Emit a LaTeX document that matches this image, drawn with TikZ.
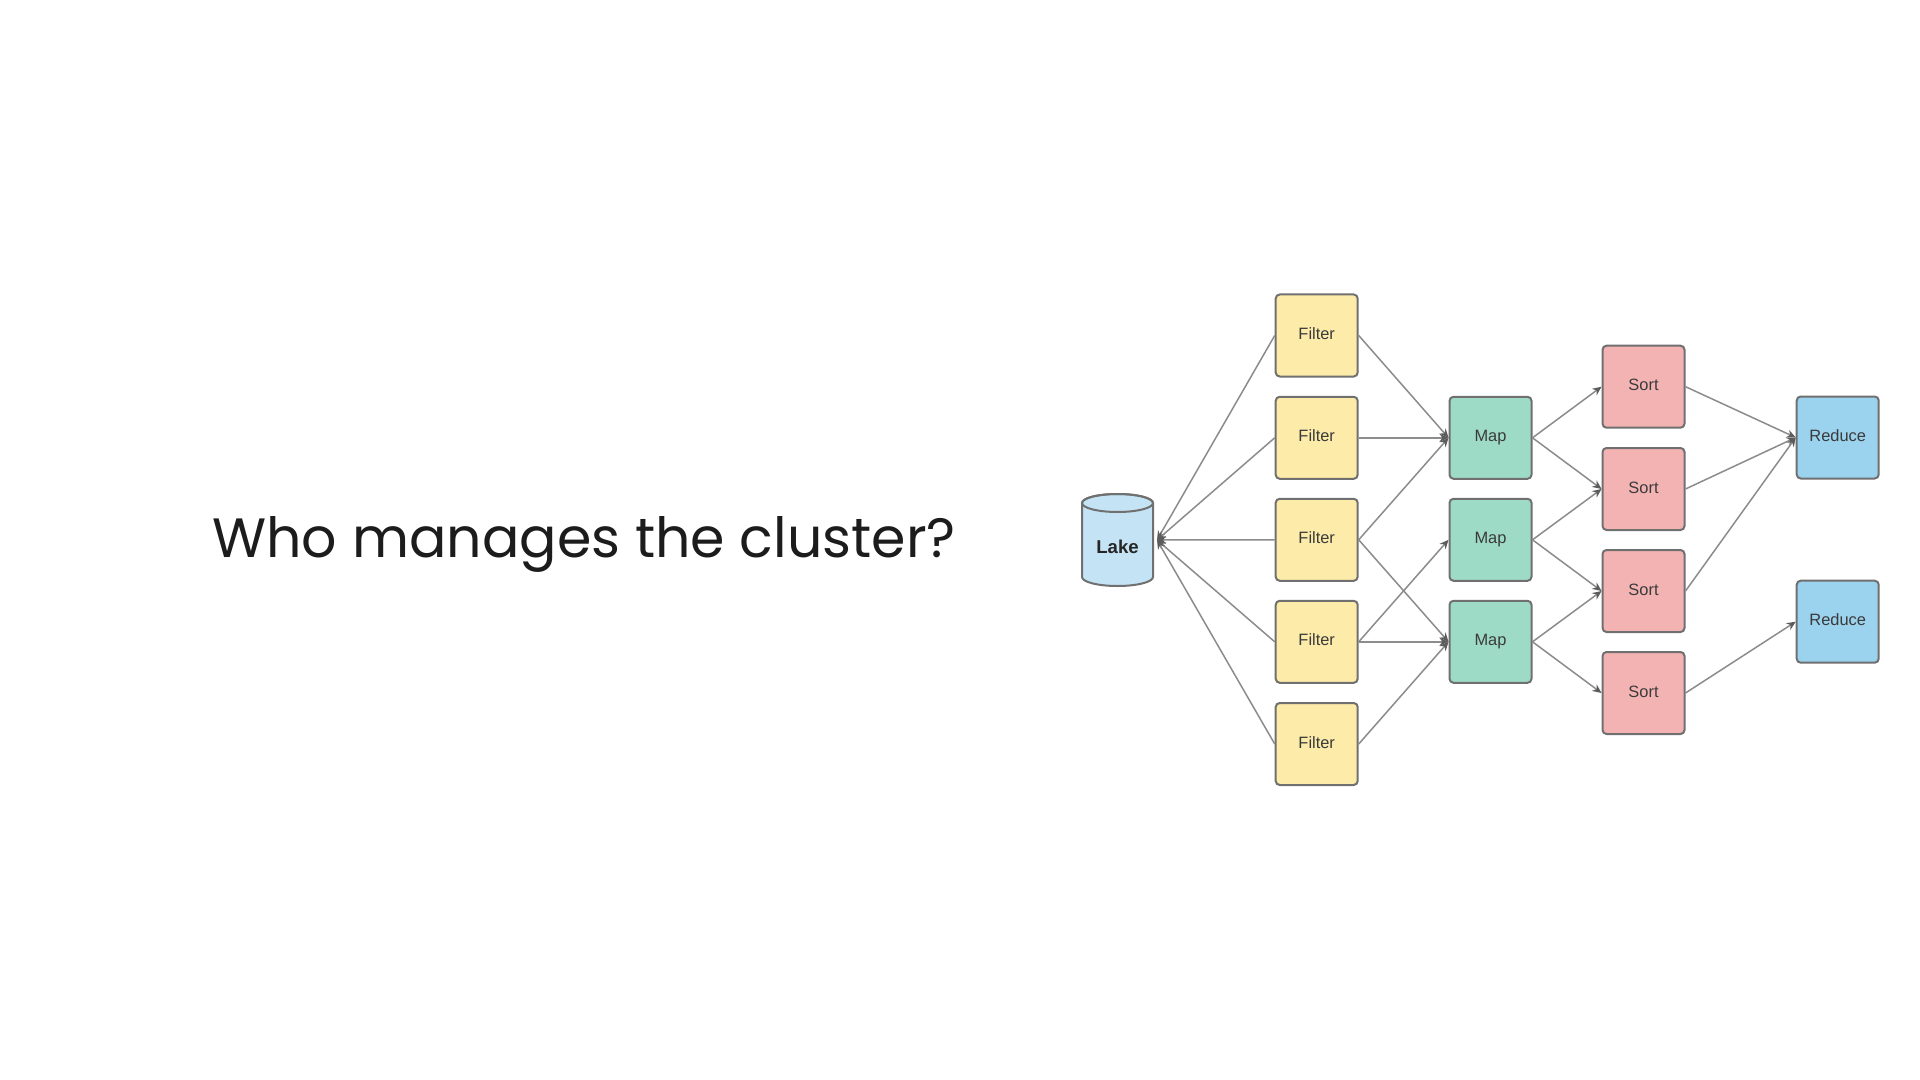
\documentclass[tikz,border=0pt]{standalone}
\usepackage{fontspec}
\setmainfont{Liberation Sans}
\newfontfamily\titlefont{Poppins}
\usetikzlibrary{arrows.meta}
\definecolor{edgegray}{HTML}{8C8C8C}
\definecolor{tipgray}{HTML}{5C5C5C}
\definecolor{boxline}{HTML}{707070}
\definecolor{labeltext}{HTML}{3A3A3A}
\definecolor{filterfill}{HTML}{FCEBA9}
\definecolor{mapfill}{HTML}{9EDBC7}
\definecolor{sortfill}{HTML}{F4B3B3}
\definecolor{reducefill}{HTML}{9BD2EE}
\definecolor{lakefill}{HTML}{C4E4F5}
\definecolor{titletext}{HTML}{1C1C1C}
\tikzset{
  box/.style={draw=boxline, line width=1pt, rounded corners=2pt,
    minimum width=41pt, minimum height=41pt, inner sep=0pt,
    text height=6pt, text depth=2pt,
    text=labeltext, font=\fontsize{8.2}{9}\selectfont},
  filterbox/.style={box, fill=filterfill},
  mapbox/.style={box, fill=mapfill},
  sortbox/.style={box, fill=sortfill},
  reducebox/.style={box, fill=reducefill},
  conn/.style={draw=edgegray, line width=0.75pt,
    -{Stealth[length=4.5pt,width=4pt,color=tipgray]}},
}
\begin{document}
\begin{tikzpicture}[x=0.5pt,y=-0.5pt]
\useasboundingbox[fill=white] (0,0) rectangle (1920,1080);
% title
\node[anchor=base west, inner sep=0pt, text=titletext,
  font=\titlefont\fontsize{27.7}{33}\selectfont] (title) at (212,557.3)
  {Who manages the cluster?};
% lake cylinder
\filldraw[fill=lakefill, draw=boxline, line width=1pt]
  (1082,503) -- (1082,577) arc[start angle=180, end angle=360, x radius=17.75pt, y radius=4.5pt]
  -- (1153,503) arc[start angle=0, end angle=180, x radius=17.75pt, y radius=4.5pt] -- cycle;
\draw[draw=boxline, line width=1pt] (1117.5,503) ellipse [x radius=17.75pt, y radius=4.5pt];
\node[font=\bfseries\fontsize{9.3}{11}\selectfont, text=black!85, inner sep=0pt] (lake) at (1117.5,546.5) {Lake};
\coordinate (lakein) at (1157,540);
% filters
\node[filterbox] (f1) at (1316.7,335.5) {Filter};
\node[filterbox] (f2) at (1316.7,437.8) {Filter};
\node[filterbox] (f3) at (1316.7,539.8) {Filter};
\node[filterbox] (f4) at (1316.7,641.8) {Filter};
\node[filterbox] (f5) at (1316.7,744) {Filter};
% maps
\node[mapbox] (m1) at (1490.5,437.8) {Map};
\node[mapbox] (m2) at (1490.5,539.8) {Map};
\node[mapbox] (m3) at (1490.5,641.8) {Map};
% sorts
\node[sortbox] (s1) at (1643.5,386.7) {Sort};
\node[sortbox] (s2) at (1643.5,489) {Sort};
\node[sortbox] (s3) at (1643.5,591) {Sort};
\node[sortbox] (s4) at (1643.5,693) {Sort};
% reduces
\node[reducebox] (r1) at (1837.7,437.5) {Reduce};
\node[reducebox] (r2) at (1837.7,621.7) {Reduce};
% edges: filters to lake
\foreach \f in {f1,f2,f3,f4,f5}
  \draw[conn] (\f.west) -- (lakein);
% filters to maps
\draw[conn] (f1.east) -- (m1.west);
\draw[conn] (f2.east) -- (m1.west);
\draw[conn] (f3.east) -- (m1.west);
\draw[conn] (f3.east) -- (m3.west);
\draw[conn] (f4.east) -- (m2.west);
\draw[conn] (f4.east) -- (m3.west);
\draw[conn] (f5.east) -- (m3.west);
% maps to sorts
\draw[conn] (m1.east) -- (s1.west);
\draw[conn] (m1.east) -- (s2.west);
\draw[conn] (m2.east) -- (s2.west);
\draw[conn] (m2.east) -- (s3.west);
\draw[conn] (m3.east) -- (s3.west);
\draw[conn] (m3.east) -- (s4.west);
% sorts to reduces
\draw[conn] (s1.east) -- (r1.west);
\draw[conn] (s2.east) -- (r1.west);
\draw[conn] (s3.east) -- (r1.west);
\draw[conn] (s4.east) -- (r2.west);
\end{tikzpicture}
\end{document}
